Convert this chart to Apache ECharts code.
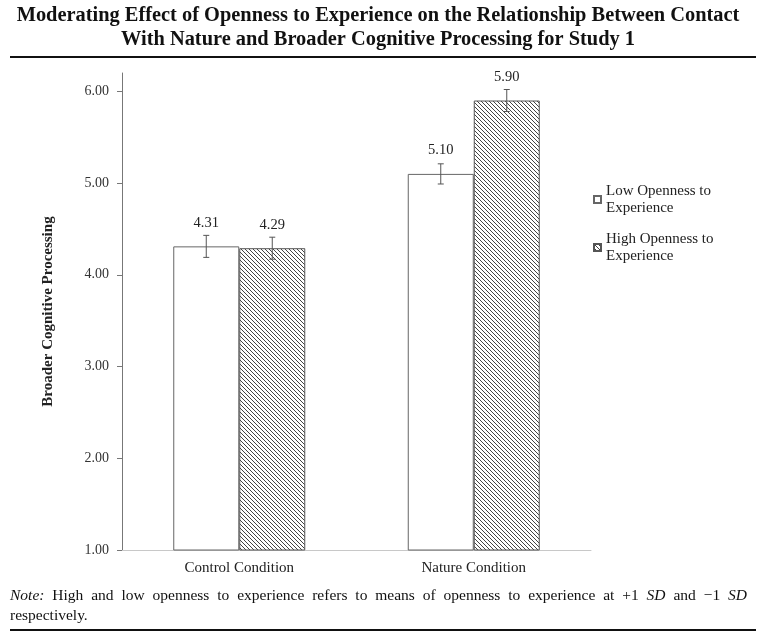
<!DOCTYPE html>
<html><head><meta charset="utf-8">
<script src="https://cdn.jsdelivr.net/npm/echarts@6/dist/echarts.min.js"></script>
<style>html,body{margin:0;padding:0;background:#fff;}#c{width:774px;height:637px;}</style>
</head><body><div id="c"></div>
<script>
var categories = ['Control Condition', 'Nature Condition'];
var lowValues = [4.31, 5.10];
var highValues = [4.29, 5.90];
var lowErrors = [0.12, 0.11];
var highErrors = [0.12, 0.12];
var seriesNames = ['Low Openness to Experience', 'High Openness to Experience'];
var yTicks = [1, 2, 3, 4, 5, 6];

var SERIF = '"Liberation Serif", "Times New Roman", serif';
var BAR_W = 66;

var pat = document.createElement('canvas');
pat.width = 4; pat.height = 4;
var pc = pat.getContext('2d');
pc.fillStyle = '#fff'; pc.fillRect(0, 0, 4, 4);
pc.strokeStyle = '#444'; pc.lineWidth = 1;
pc.beginPath(); pc.moveTo(-1, -1); pc.lineTo(5, 5); pc.moveTo(-1, 3); pc.lineTo(1, 5); pc.moveTo(3, -1); pc.lineTo(5, 1); pc.stroke();

function errSeries(vals, errs, dir) {
  return {
    type: 'custom', silent: true, z: 5,
    data: vals.map(function (v, i) { return [i, v, errs[i]]; }),
    renderItem: function (params, api) {
      var i = api.value(0), v = api.value(1), e = api.value(2);
      var top = api.coord([i, v + e]), bot = api.coord([i, v - e]);
      var x = top[0] + dir * BAR_W / 2;
      var c = 3;
      var st = { stroke: '#555', lineWidth: 1 };
      return { type: 'group', children: [
        { type: 'line', shape: { x1: x, y1: top[1], x2: x, y2: bot[1] }, style: st },
        { type: 'line', shape: { x1: x - c, y1: top[1], x2: x + c, y2: top[1] }, style: st },
        { type: 'line', shape: { x1: x - c, y1: bot[1], x2: x + c, y2: bot[1] }, style: st }
      ]};
    }
  };
}

// justified note line
var noteWords = [
  ['Note:', true], ['High', false], ['and', false], ['low', false], ['openness', false], ['to', false],
  ['experience', false], ['refers', false], ['to', false], ['means', false], ['of', false], ['openness', false],
  ['to', false], ['experience', false], ['at', false], ['+1', false], ['SD', true], ['and', false],
  ['\u22121', false], ['SD', true]
];
var NOTE_SIZE = 15.5;
var mc = document.createElement('canvas').getContext('2d');
function fontStr(it) { return (it ? 'italic ' : '') + NOTE_SIZE + 'px ' + SERIF; }
var total = 0, widths = [];
noteWords.forEach(function (w) { mc.font = fontStr(w[1]); var ww = mc.measureText(w[0]).width; widths.push(ww); total += ww; });
var x0 = 10, x1 = 747;
var gap = (x1 - x0 - total) / (noteWords.length - 1);
var noteEls = [];
var cx = x0;
noteWords.forEach(function (w, k) {
  noteEls.push({ type: 'text', left: cx, top: 588, style: { text: w[0], font: fontStr(w[1]), fill: '#111' } });
  cx += widths[k] + gap;
});
noteEls.push({ type: 'text', left: 10, top: 608, style: { text: 'respectively.', font: NOTE_SIZE + 'px ' + SERIF, fill: '#111' } });

var chart = echarts.init(document.getElementById('c'));
chart.setOption({
  backgroundColor: '#fff',
  animation: false,
  title: {
    text: 'Moderating Effect of Openness to Experience on the Relationship Between Contact\nWith Nature and Broader Cognitive Processing for Study 1',
    left: 373, top: -1, textAlign: 'center',
    textStyle: { fontFamily: SERIF, fontWeight: 'bold', fontSize: 20.4, lineHeight: 24, color: '#111' }
  },
  grid: { left: 122, right: 183, top: 73, bottom: 87 },
  legend: {
    orient: 'vertical', left: 588, top: 169, itemGap: -3,
    itemWidth: 7, itemHeight: 7, icon: 'rect',
    data: seriesNames,
    formatter: function (n) { return n.replace(' to ', ' to\n'); },
    textStyle: { fontFamily: SERIF, fontSize: 15, lineHeight: 17, color: '#222', padding: [17, 0, 0, 0] }
  },
  xAxis: {
    type: 'category', data: categories,
    axisLine: { lineStyle: { color: '#c8c8c8' } },
    axisTick: { show: false },
    axisLabel: { fontFamily: SERIF, fontSize: 15, color: '#222', margin: 11 }
  },
  yAxis: {
    type: 'value', min: 1, max: 6.2, interval: 1,
    name: 'Broader Cognitive Processing', nameLocation: 'middle', nameGap: 66,
    nameTextStyle: { fontFamily: SERIF, fontWeight: 'bold', fontSize: 15, color: '#222' },
    axisLine: { show: true, lineStyle: { color: '#777' } },
    axisTick: { show: true, length: 5, lineStyle: { color: '#777' }, customValues: yTicks },
    axisLabel: { fontFamily: SERIF, fontSize: 14, color: '#333', margin: 13, customValues: yTicks,
      formatter: function (v) { return v.toFixed(2); } },
    splitLine: { show: false }
  },
  series: [
    { name: seriesNames[0], type: 'bar', data: lowValues, barWidth: BAR_W, barGap: '0%',
      itemStyle: { color: '#fff', borderColor: '#666', borderWidth: 1 },
      label: { show: true, position: 'top', distance: 16, fontFamily: SERIF, fontSize: 14.5, color: '#222',
        formatter: function (p) { return p.value.toFixed(2); } } },
    { name: seriesNames[1], type: 'bar', data: highValues, barWidth: BAR_W,
      itemStyle: { color: { image: pat, repeat: 'repeat' }, borderColor: '#555', borderWidth: 1 },
      label: { show: true, position: 'top', distance: 16, fontFamily: SERIF, fontSize: 14.5, color: '#222',
        formatter: function (p) { return p.value.toFixed(2); } } },
    errSeries(lowValues, lowErrors, -1),
    errSeries(highValues, highErrors, 1)
  ],
  graphic: [
    { type: 'rect', shape: { x: 10, y: 56, width: 746, height: 2 }, style: { fill: '#111' } },
    { type: 'rect', shape: { x: 10, y: 629, width: 746, height: 2 }, style: { fill: '#111' } }
  ].concat(noteEls)
});
</script>
</body></html>
